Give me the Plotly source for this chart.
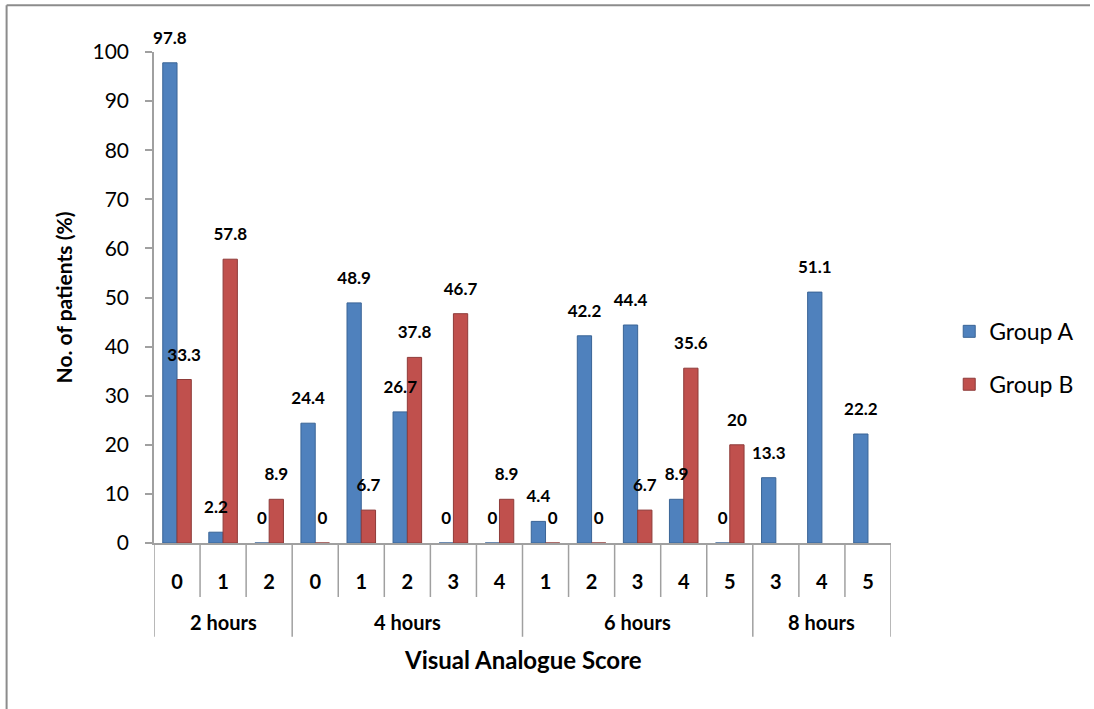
import plotly.graph_objects as go

# Time points and VAS scores
periods = ["2 hours", "4 hours", "6 hours", "8 hours"]
period_sizes = [3, 5, 5, 3]
scores = ["0", "1", "2", "0", "1", "2", "3", "4", "1", "2", "3", "4", "5", "3", "4", "5"]

# Percentage of patients per score
group_a = [97.8, 2.2, 0, 24.4, 48.9, 26.7, 0, 0, 4.4, 42.2, 44.4, 8.9, 0, 13.3, 51.1, 22.2]
group_b = [33.3, 57.8, 8.9, 0, 6.7, 37.8, 46.7, 8.9, 0, 0, 6.7, 35.6, 20, None, None, None]

y_ticks = list(range(0, 101, 10))

FONT = "Lato, 'Open Sans', sans-serif"
BLUE = "#4F81BD"
RED = "#C0504D"
AXIS = "#A0A0A0"
BARGAP = 0.38

xpos = list(range(len(scores)))
series = [("Group A", group_a, BLUE, "#3A6496"),
          ("Group B", group_b, RED, "#8E3B39")]

fig = go.Figure()
for name, vals, color, edge in series:
    fig.add_trace(go.Bar(
        x=xpos, y=vals, name=name,
        marker=dict(color=color, line=dict(color=edge, width=1)),
        legendgroup=name,
    ))

# Value labels drawn above all bars, centred on each bar of the group
bar_w = (1 - BARGAP) / len(series)
for k, (name, vals, _, _) in enumerate(series):
    shift = (k - (len(series) - 1) / 2) * bar_w
    pts = [(x + shift, v) for x, v in zip(xpos, vals) if v is not None]
    fig.add_trace(go.Scatter(
        x=[p[0] for p in pts], y=[p[1] for p in pts],
        mode="markers+text", text=[f"{p[1]:g}" for p in pts],
        textposition="top center", cliponaxis=False,
        marker=dict(size=22, opacity=0),
        textfont=dict(family=FONT, size=17, color="black", weight="bold"),
        showlegend=False, hoverinfo="skip",
    ))

# Category separators: short ones between scores, long ones between periods
boundaries = [i - 0.5 for i in range(len(scores) + 1)]
period_edges = [-0.5]
for n in period_sizes:
    period_edges.append(period_edges[-1] + n)
for b in boundaries:
    long_line = b in period_edges
    fig.add_shape(type="line", xref="x", yref="paper",
                  x0=b, x1=b, y0=0, y1=-0.191 if long_line else -0.11,
                  line=dict(color=AXIS, width=1.5))

# Period labels centred under their scores
start = 0
for name, n in zip(periods, period_sizes):
    fig.add_annotation(x=start + (n - 1) / 2, y=-0.161, xref="x", yref="paper",
                       text=name, showarrow=False, yanchor="middle",
                       font=dict(family=FONT, size=20, weight="bold"))
    start += n

fig.add_annotation(x=0.5, y=-0.238, xref="paper", yref="paper",
                   text="Visual Analogue Score", showarrow=False, yanchor="middle",
                   font=dict(family=FONT, size=24, weight="bold"))

fig.update_layout(
    width=1094, height=709,
    margin=dict(l=154, r=203, t=52, b=166),
    paper_bgcolor="white", plot_bgcolor="white",
    barmode="group", bargap=BARGAP, bargroupgap=0,
    font=dict(family=FONT, color="black"),
    showlegend=True,
    legend=dict(
        x=1.079, y=0.377, xanchor="left", yanchor="middle",
        font=dict(family=FONT, size=23),
        tracegroupgap=20, itemwidth=30,
    ),
    xaxis=dict(
        range=[-0.5, len(scores) - 0.5],
        tickvals=xpos, ticktext=scores,
        showline=True, linecolor=AXIS, linewidth=1.5,
        ticks="", ticklabelstandoff=20,
        tickfont=dict(family=FONT, size=20, weight="bold"),
        showgrid=False, zeroline=False,
    ),
    yaxis=dict(
        range=[0, 100], tickvals=y_ticks,
        showline=True, linecolor=AXIS, linewidth=1.5,
        ticks="outside", ticklen=7, tickcolor=AXIS, tickwidth=1.5,
        ticklabelstandoff=12,
        tickfont=dict(family=FONT, size=21),
        showgrid=False, zeroline=False,
        title=dict(text="No. of patients (%)",
                   font=dict(family=FONT, size=21, weight="bold"), standoff=14),
    ),
)

# Outer chart border (top and left edges)
fig.add_shape(type="line", xref="paper", yref="paper",
              x0=-0.2, x1=1.27, y0=1.095, y1=1.095,
              line=dict(color="#8C8C8C", width=2))
fig.add_shape(type="line", xref="paper", yref="paper",
              x0=-0.2, x1=-0.2, y0=1.095, y1=-0.35,
              line=dict(color="#8C8C8C", width=2))

fig.write_html("out.html")
